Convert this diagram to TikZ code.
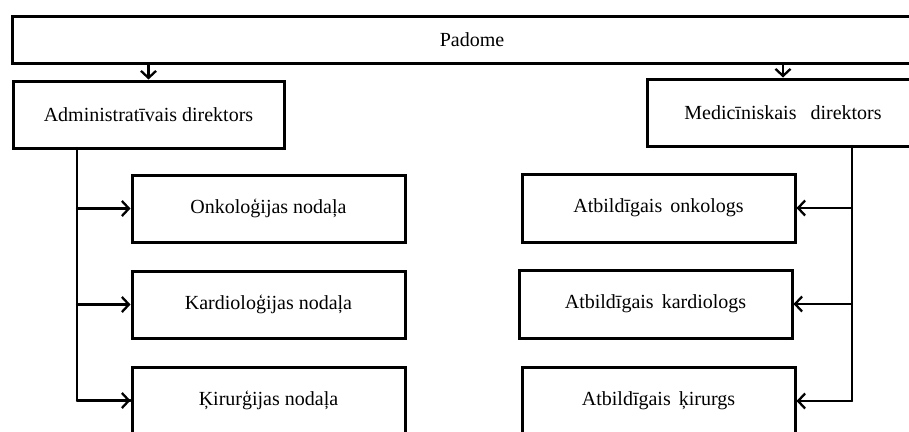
\documentclass[tikz,border=0pt]{standalone}
\usepackage{fontspec}
\setmainfont{Liberation Serif}
\usetikzlibrary{arrows.meta}
\begin{document}
\begin{tikzpicture}[x=1pt,y=-1pt,
  box/.style={draw, line width=3pt, rectangle, inner sep=0pt,
    minimum width=273pt, minimum height=67pt,
    font=\fontsize{20}{23}\selectfont},
  link/.style={line width=2.3pt, line cap=round, line join=round},
  arr/.style={link, -{Straight Barb[length=7pt,width=15pt,line width=2.3pt]}}]
\useasboundingbox (0,0) rectangle (909,431);
\clip (0,0) rectangle (909,431);

% board
\node[box, minimum width=920pt, minimum height=47pt] (padome) at (472,39.5) {Padome};

% directors
\node[box, minimum width=271pt] (admin) at (148.5,114.5) {Administratīvais direktors};
\node[box, minimum width=272pt] (med) at (783,112.5) {Medicīniskais\hspace{14pt}direktors};

% departments
\node[box] (onk) at (268.5,208.5) {Onkoloģijas nodaļa};
\node[box] (kard) at (268.5,304.5) {Kardioloģijas nodaļa};
\node[box] (kir) at (268.5,400.5) {Ķirurģijas nodaļa};

% responsible physicians
\node[box, minimum height=68pt] (ronk) at (658.5,208) {Atbildīgais\hspace{8pt}onkologs};
\node[box, minimum height=68pt] (rkard) at (655.5,304) {Atbildīgais\hspace{8pt}kardiologs};
\node[box, minimum height=68pt] (rkir) at (658.5,401) {Atbildīgais\hspace{8pt}ķirurgs};

% board to directors
\draw[arr] (padome.south -| admin.north) -- (admin.north);
\draw[arr] (padome.south -| med.north) -- (med.north);

% administrative branch
\coordinate (lbus) at (77,148);
\draw[link] (lbus) |- (kir.west);
\draw[arr] (lbus |- onk.west) -- (onk.west);
\draw[arr] (lbus |- kard.west) -- (kard.west);
\draw[arr] (lbus |- kir.west) -- (kir.west);

% medical branch
\coordinate (rbus) at (852,146);
\draw[link] (rbus) |- (rkir.east);
\draw[arr] (rbus |- ronk.east) -- (ronk.east);
\draw[arr] (rbus |- rkard.east) -- (rkard.east);
\draw[arr] (rbus |- rkir.east) -- (rkir.east);
\end{tikzpicture}
\end{document}
